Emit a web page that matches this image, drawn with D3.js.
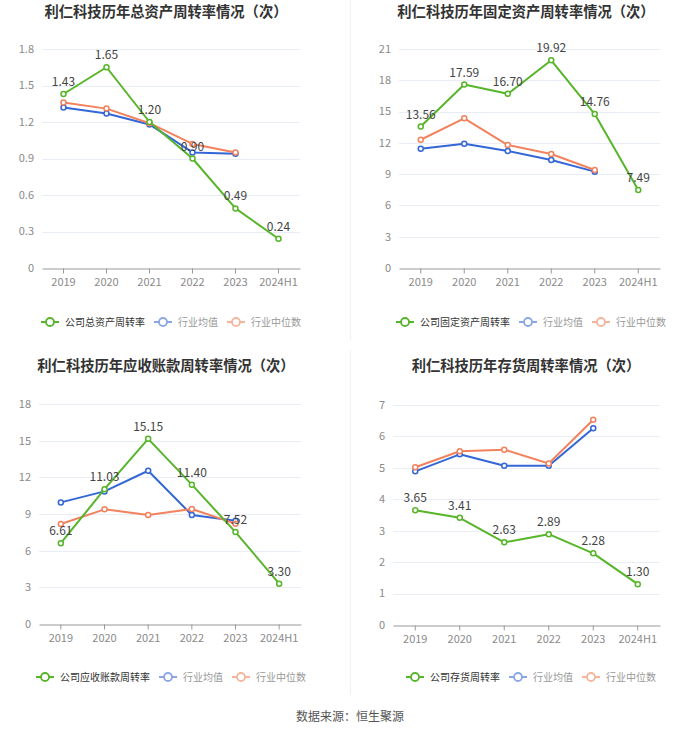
<!DOCTYPE html>
<html>
<head>
<meta charset="utf-8">
<script src="https://cdn.jsdelivr.net/npm/d3@7"></script>
<style>
  body { margin: 0; background: #fff; }
  svg { font-family: "Noto Sans CJK SC", "Noto Sans", sans-serif; }
</style>
</head>
<body>
<div id="chart"></div>
<script>
// data
const years = ["2019", "2020", "2021", "2022", "2023", "2024H1"];

const totalAssetCompany = [1.43, 1.65, 1.20, 0.90, 0.49, 0.24];
const totalAssetMean = [1.32, 1.27, 1.18, 0.95, 0.94];
const totalAssetMedian = [1.36, 1.31, 1.19, 1.02, 0.95];

const fixedAssetCompany = [13.56, 17.59, 16.70, 19.92, 14.76, 7.49];
const fixedAssetMean = [11.44, 11.92, 11.22, 10.35, 9.24];
const fixedAssetMedian = [12.30, 14.35, 11.79, 10.93, 9.40];

const receivableCompany = [6.61, 11.03, 15.15, 11.40, 7.52, 3.30];
const receivableMean = [9.95, 10.85, 12.54, 8.92, 8.45];
const receivableMedian = [8.18, 9.38, 8.92, 9.41, 8.21];

const inventoryCompany = [3.65, 3.41, 2.63, 2.89, 2.28, 1.30];
const inventoryMean = [4.89, 5.43, 5.07, 5.07, 6.26];
const inventoryMedian = [5.02, 5.53, 5.58, 5.14, 6.53];

const legendMean = "行业均值";
const legendMedian = "行业中位数";
const sourceText = "数据来源：恒生聚源";

const charts = [
    { title: "利仁科技历年总资产周转率情况（次）", name: "公司总资产周转率",
      company: totalAssetCompany, mean: totalAssetMean, median: totalAssetMedian,
      yMax: 1.8, yStep: 0.3, fmt: d => d === 0 ? "0" : d3.format(".1f")(d),
      box: { left: 42, right: 300, top: 49, bottom: 268 }, titleX: 166, titleY: 17, legendX: 171, legendY: 322 },
    { title: "利仁科技历年固定资产周转率情况（次）", name: "公司固定资产周转率",
      company: fixedAssetCompany, mean: fixedAssetMean, median: fixedAssetMedian,
      yMax: 21, yStep: 3, fmt: d3.format("d"),
      box: { left: 399, right: 660, top: 49, bottom: 268 }, titleX: 526, titleY: 17, legendX: 531, legendY: 322 },
    { title: "利仁科技历年应收账款周转率情况（次）", name: "公司应收账款周转率",
      company: receivableCompany, mean: receivableMean, median: receivableMedian,
      yMax: 18, yStep: 3, fmt: d3.format("d"),
      box: { left: 39, right: 301, top: 404, bottom: 624 }, titleX: 166, titleY: 371, legendX: 171, legendY: 677 },
    { title: "利仁科技历年存货周转率情况（次）", name: "公司存货周转率",
      company: inventoryCompany, mean: inventoryMean, median: inventoryMedian,
      yMax: 7, yStep: 1, fmt: d3.format("d"),
      box: { left: 393, right: 660, top: 405, bottom: 625 }, titleX: 526, titleY: 371, legendX: 531, legendY: 677 }
];

const colors = { company: "#57b52a", mean: "#3366d6", median: "#f2825d" };
const legendColors = { company: "#57b52a", mean: "#8aa6e8", median: "#f5b49c" };

const svg = d3.select("#chart")
    .append("svg")
    .attr("width", 700)
    .attr("height", 733);

// faint cell dividers
svg.append("line").attr("x1", 350.5).attr("x2", 350.5).attr("y1", 0).attr("y2", 340)
    .attr("stroke", "#f0f0f0");
svg.append("line").attr("x1", 350.5).attr("x2", 350.5).attr("y1", 350).attr("y2", 695)
    .attr("stroke", "#f0f0f0");

charts.forEach(drawChart);

svg.append("text")
    .attr("x", 350)
    .attr("y", 721)
    .attr("text-anchor", "middle")
    .attr("font-size", 12)
    .attr("fill", "#555")
    .text(sourceText);

function drawChart(cfg) {
    let { box } = cfg;
    let g = svg.append("g");

    let x = d3.scaleBand()
        .domain(years)
        .range([box.left, box.right]);

    let y = d3.scaleLinear()
        .domain([0, cfg.yMax])
        .range([box.bottom, box.top]);

    let ticks = d3.range(0, cfg.yMax + cfg.yStep / 2, cfg.yStep);

    // title
    g.append("text")
        .attr("x", cfg.titleX)
        .attr("y", cfg.titleY)
        .attr("text-anchor", "middle")
        .attr("font-size", 14.3)
        .attr("font-weight", "bold")
        .attr("fill", "#333")
        .text(cfg.title);

    // grid
    g.selectAll(".grid")
        .data(ticks.filter(t => t > 0))
        .join("line")
        .attr("x1", box.left)
        .attr("x2", box.right)
        .attr("y1", d => Math.round(y(d)) + 0.5)
        .attr("y2", d => Math.round(y(d)) + 0.5)
        .attr("stroke", "#e9edf5");

    // y labels
    g.selectAll(".ylab")
        .data(ticks)
        .join("text")
        .attr("x", box.left - 8)
        .attr("y", d => y(d))
        .attr("dy", "0.35em")
        .attr("text-anchor", "end")
        .attr("font-size", 11)
        .attr("fill", "#8a8a8a")
        .text(d => cfg.fmt(d));

    // x axis
    let xAxis = g.append("g")
        .attr("transform", `translate(0,${Math.round(box.bottom) + 0.5})`)
        .call(d3.axisBottom(x).tickSize(5).tickSizeOuter(0));
    xAxis.select(".domain").attr("stroke", "#999");
    xAxis.selectAll(".tick line").attr("stroke", "#999");
    xAxis.selectAll(".tick text")
        .attr("font-size", 11)
        .attr("fill", "#8a8a8a")
        .attr("font-family", "\"Noto Sans CJK SC\", sans-serif")
        .attr("dy", "0.9em");

    let cx = (d, i) => x(years[i]) + x.bandwidth() / 2;
    let line = d3.line().x(cx).y(d => y(d));

    let series = [
        { key: "mean", values: cfg.mean },
        { key: "median", values: cfg.median },
        { key: "company", values: cfg.company }
    ];

    series.forEach(s => {
        g.append("path")
            .datum(s.values)
            .attr("d", line)
            .attr("fill", "none")
            .attr("stroke", colors[s.key])
            .attr("stroke-width", 2)
            .attr("stroke-linejoin", "round");

        g.selectAll(".pt-" + s.key)
            .data(s.values)
            .join("circle")
            .attr("cx", cx)
            .attr("cy", d => y(d))
            .attr("r", 2.5)
            .attr("fill", "#fff")
            .attr("stroke", colors[s.key])
            .attr("stroke-width", 1.5);
    });

    // value labels for company
    g.selectAll(".vlab")
        .data(cfg.company)
        .join("text")
        .attr("x", cx)
        .attr("y", d => y(d) - 8)
        .attr("text-anchor", "middle")
        .attr("font-size", 12)
        .attr("fill", "#444")
        .text(d => d.toFixed(2));

    // legend
    let items = [
        { key: "company", label: cfg.name, text: "#333" },
        { key: "mean", label: legendMean, text: "#999" },
        { key: "median", label: legendMedian, text: "#999" }
    ];
    let fs = 10;
    let iconW = 18, gapIcon = 6, gapItem = 9;
    items.forEach(it => it.w = iconW + gapIcon + it.label.length * fs);
    let total = d3.sum(items, d => d.w) + gapItem * (items.length - 1);
    let lx = cfg.legendX - total / 2;
    let lg = g.append("g");
    items.forEach(it => {
        let ig = lg.append("g").attr("transform", `translate(${lx},${cfg.legendY})`);
        ig.append("line")
            .attr("x1", 0).attr("x2", iconW)
            .attr("y1", 0).attr("y2", 0)
            .attr("stroke", legendColors[it.key])
            .attr("stroke-width", 2);
        ig.append("circle")
            .attr("cx", iconW / 2).attr("cy", 0).attr("r", 4)
            .attr("fill", "#fff")
            .attr("stroke", legendColors[it.key])
            .attr("stroke-width", 1.8);
        ig.append("text")
            .attr("x", iconW + gapIcon)
            .attr("y", 0)
            .attr("dy", "0.35em")
            .attr("font-size", fs)
            .attr("fill", it.text)
            .text(it.label);
        lx += it.w + gapItem;
    });
}
</script>
</body>
</html>
